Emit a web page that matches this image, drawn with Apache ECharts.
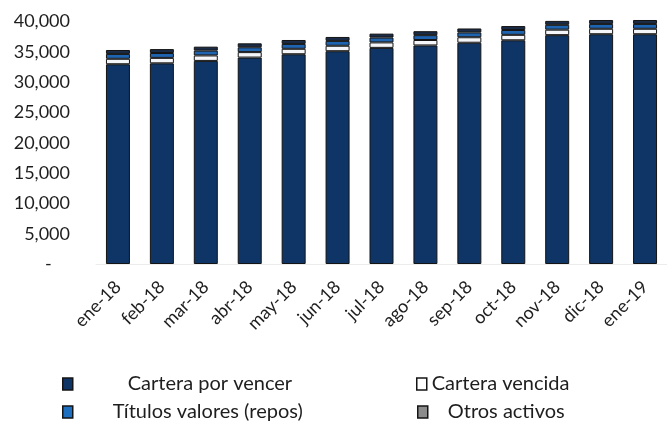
<!DOCTYPE html>
<html>
<head>
<meta charset="utf-8">
<title>Cartera</title>
<script src="https://cdn.jsdelivr.net/npm/echarts@6/dist/echarts.min.js"></script>
<style>
    body { margin: 0; background: #fff; }
    #main { width: 667px; height: 423px; }
</style>
</head>
<body>
<div id="main"></div>
<script>
// datos (millones)
var meses = ['ene-18', 'feb-18', 'mar-18', 'abr-18', 'may-18', 'jun-18', 'jul-18',
             'ago-18', 'sep-18', 'oct-18', 'nov-18', 'dic-18', 'ene-19'];
var porVencer = [32950, 33100, 33500, 34050, 34600, 35100, 35650, 36050, 36500, 36900, 37750, 37900, 37900];
var vencida   = [900, 900, 900, 900, 900, 900, 900, 900, 900, 900, 900, 900, 900];
var titulos   = [800, 800, 800, 800, 800, 800, 800, 800, 800, 800, 800, 800, 800];
var otros     = [650, 650, 650, 650, 650, 650, 650, 650, 650, 650, 650, 650, 650];
var yTicks    = [0, 5000, 10000, 15000, 20000, 25000, 30000, 35000, 40000];

var fuente = 'Lato, "Open Sans", sans-serif';
var borde = '#141414';

function serie(nombre, datos, color) {
    return {
        name: nombre, type: 'bar', stack: 'total', data: datos,
        barWidth: 24, clip: false,
        itemStyle: { color: color, borderColor: borde, borderWidth: 1 },
        emphasis: { disabled: true }
    };
}

function leyenda(nombre, left, top, color, pad) {
    return {
        data: [{ name: nombre, itemStyle: { color: color, borderColor: borde, borderWidth: 1.5 } }],
        left: left, top: top, padding: 0,
        icon: 'rect', itemWidth: 10, itemHeight: 12,
        textStyle: { fontFamily: fuente, fontSize: 20, color: '#1e1e1e', padding: [0, 0, 0, pad] },
        selectedMode: false
    };
}

var chart = echarts.init(document.getElementById('main'));
chart.setOption({
    animation: false,
    grid: { left: 96, right: -8, top: 21.5, bottom: 159 },
    xAxis: {
        type: 'category', data: meses,
        axisLine: { show: true, lineStyle: { color: '#ececec' } },
        axisTick: { show: false },
        axisLabel: { rotate: 45, margin: 20, fontFamily: fuente, fontSize: 18, color: '#1e1e1e', interval: 0 }
    },
    yAxis: {
        type: 'value', min: yTicks[0], max: yTicks[yTicks.length - 1], interval: 5000,
        axisLine: { show: false }, axisTick: { show: false }, splitLine: { show: false },
        axisLabel: {
            margin: 26, fontFamily: fuente, fontSize: 18, color: '#1e1e1e',
            formatter: function (v) { return v === 0 ? '-    ' : v.toLocaleString('en-US'); }
        }
    },
    legend: [
        leyenda('Cartera por vencer', 62, 374, '#0e3566', 50),
        leyenda('Cartera vencida', 416, 374, '#ffffff', 0),
        leyenda('Títulos valores (repos)', 62, 402, '#1f6fc0', 35),
        leyenda('Otros activos', 417, 402, '#8c8c8c', 15)
    ],
    series: [
        serie('Cartera por vencer', porVencer, '#0e3566'),
        serie('Cartera vencida', vencida, '#f4f6fa'),
        serie('Títulos valores (repos)', titulos, '#1f64b0'),
        serie('Otros activos', otros, '#1b2c48')
    ]
});
</script>
</body>
</html>
